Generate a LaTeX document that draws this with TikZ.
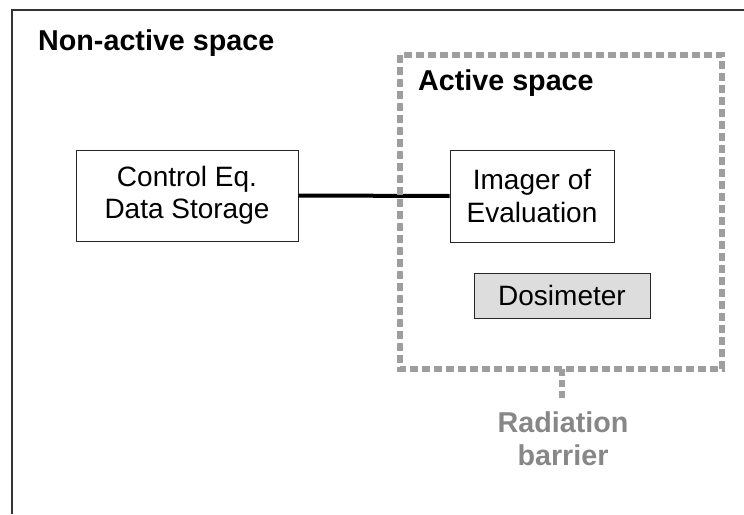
\documentclass[tikz,border=0pt]{standalone}
\usepackage{fontspec}
\setmainfont{Liberation Sans}
\definecolor{barriergray}{RGB}{158,158,158}
\definecolor{labelgray}{RGB}{135,135,135}
\definecolor{dosefill}{RGB}{221,221,221}
\begin{document}
\begin{tikzpicture}[x=1pt,y=-1pt,
  heading/.style={font=\fontsize{28.7}{33}\selectfont\bfseries, inner sep=0pt},
  unitbox/.style={draw=black!85, line width=1pt, font=\fontsize{28}{32.5}\selectfont, align=center, inner sep=0pt},
  barrier/.style={draw=barriergray, line width=6pt, dash pattern=on 8pt off 4pt},
  link/.style={draw=black, line width=4pt}]
  \useasboundingbox (0,0) rectangle (744,514);
  % frame of the non-active area
  \draw[black!80, line width=1.5pt] (12,514) -- (12,10) -- (744,10);
  \node[heading, anchor=base west] (nonactive) at (38,50) {Non-active space};

  % equipment boxes
  \node[unitbox, minimum width=222pt, minimum height=91pt] (control) at (187,195.5) {Control Eq.\\Data Storage};
  \node[unitbox, minimum width=164pt, minimum height=92pt] (imager) at (532,196) {Imager of\\Evaluation};
  \node[unitbox, fill=dosefill, minimum width=176pt, minimum height=45pt] (dosi) at (562,295.5) {Dosimeter};

  \draw[link] (control.east) -- (imager.west);

  % radiation barrier around the active space
  \coordinate (bnw) at (400,55);
  \coordinate (bse) at (722,369);
  \coordinate (bstub) at (562,369);
  \coordinate (bend) at (562,400);
  \draw[barrier] (bnw) rectangle (bse);
  \draw[barrier, dash pattern=on 7pt off 4pt] (bstub) -- (bend);
  \node[heading, anchor=base west] (active) at (418,90) {Active space};
  \node[heading, text=labelgray, align=center, anchor=base] (radlabel) at (563,465) {Radiation\\barrier};
\end{tikzpicture}
\end{document}
